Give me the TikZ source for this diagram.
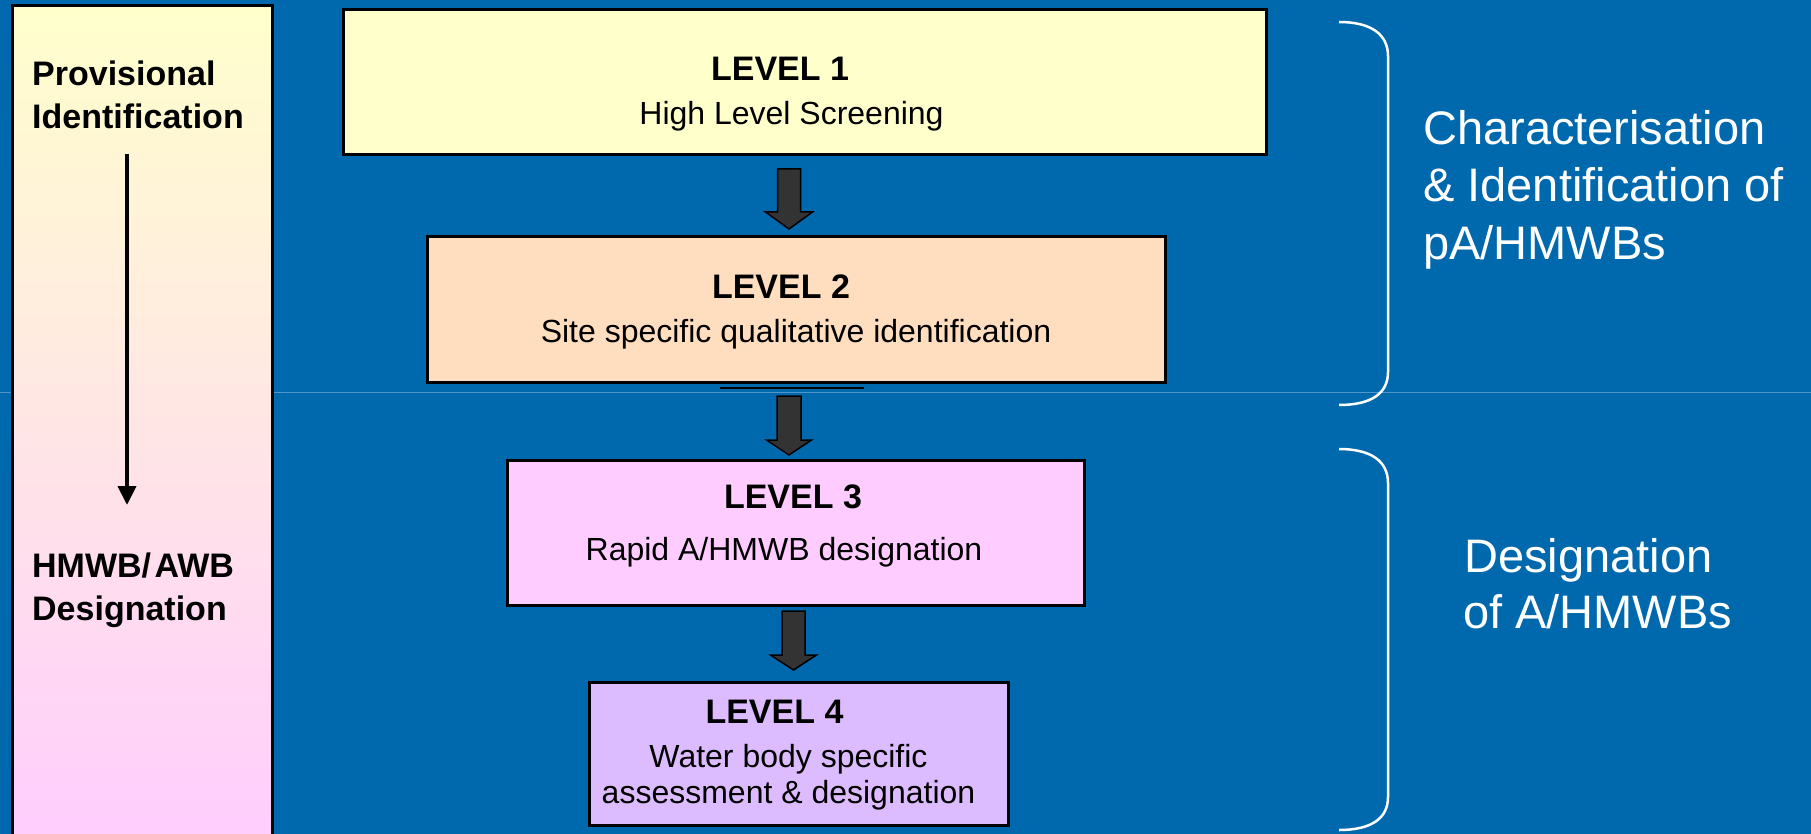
\documentclass[tikz,border=0pt]{standalone}
\usepackage{fontspec}
\setmainfont{Liberation Sans}
\usetikzlibrary{arrows.meta}
\definecolor{bgblue}{RGB}{0,105,173}
\definecolor{lineblue}{RGB}{80,150,200}
\definecolor{lvone}{RGB}{255,255,204}
\definecolor{lvtwo}{RGB}{255,222,192}
\definecolor{lvthree}{RGB}{255,204,255}
\definecolor{lvfour}{RGB}{221,187,255}
\definecolor{arrowgrey}{RGB}{51,51,51}
\tikzset{
  lvbox/.style={draw=black, line width=3pt, inner sep=0pt},
  lvtitle/.style={anchor=base, inner sep=0pt, font=\fontsize{34}{40}\selectfont\bfseries},
  lvtext/.style={anchor=base, inner sep=0pt, font=\fontsize{32}{38}\selectfont},
  sidetext/.style={anchor=base west, inner sep=0pt, font=\fontsize{34}{40}\selectfont\bfseries},
  righttext/.style={anchor=base west, inner sep=0pt, text=white, font=\fontsize{47}{56}\selectfont},
  blockarrow/.style={draw=black, line width=1.5pt, fill=arrowgrey, line join=miter},
  bracestyle/.style={draw=white, line width=2.5pt}
}
\newcommand{\myblockarrow}[6]{% x, top, headstart, tip, shaft half, head half
  \draw[blockarrow] (#1-#5,#2) -- (#1+#5,#2) -- (#1+#5,#3) -- (#1+#6,#3) -- (#1,#4) -- (#1-#6,#3) -- (#1-#5,#3) -- cycle;}
\begin{document}
\begin{tikzpicture}[x=1pt,y=-1pt]
\useasboundingbox (0,0) rectangle (1811,834);
\clip (0,0) rectangle (1811,834);
\fill[bgblue] (0,0) rectangle (1811,834);
\draw[lineblue, line width=1pt] (0,392) -- (1811,392);

% left panel
\shade[top color=lvone, bottom color=lvthree] (12,6) rectangle (272,860);
\draw[black, line width=3pt] (12,6) rectangle (272,860);
\node[sidetext] (p1) at (32,86) {Provisional};
\node[sidetext] (p2) at (32,129) {Identification};
\node[sidetext] (d1) at (32,577) {HMWB/\hspace{3.5pt}AWB};
\node[sidetext] (d2) at (32,620) {Designation};
\coordinate (la) at (127,154);
\coordinate (lb) at (127,505);
\draw[black, line width=4pt, -{Triangle[width=18pt,length=19pt]}] (la) -- (lb);

% level boxes
\node[lvbox, fill=lvone, minimum width=923pt, minimum height=145pt] (b1) at (804.5,82.5) {};
\node[lvbox, fill=lvtwo, minimum width=738pt, minimum height=145pt] (b2) at (796,309.5) {};
\node[lvbox, fill=lvthree, minimum width=577pt, minimum height=145pt] (b3) at (795.5,532.5) {};
\node[lvbox, fill=lvfour, minimum width=419pt, minimum height=143pt] (b4) at (798.5,753.5) {};

\node[lvtitle] (t1) at (780,81) {LEVEL 1};
\node[lvtext] (s1) at (791.5,125) {High Level Screening};
\node[lvtitle] (t2) at (781,298) {LEVEL 2};
\node[lvtext] (s2) at (796,342) {Site specific qualitative identification};
\node[lvtitle] (t3) at (793,508) {LEVEL 3};
\node[lvtext] (s3) at (784,560) {Rapid A/HMWB designation};
\node[lvtitle] (t4) at (774.5,723) {LEVEL 4};
\node[lvtext] (s4a) at (788.5,767) {Water body specific};
\node[lvtext] (s4b) at (788.5,803) {assessment \& designation};

% short line under level 2
\draw[black, line width=2pt] (720,388) -- (864,388);

% block arrows
\myblockarrow{789}{169}{212}{229}{11.5}{23.5}
\myblockarrow{789}{396}{440}{455}{12}{22.5}
\myblockarrow{793.5}{611}{655}{670}{11.5}{23}

% braces
\draw[bracestyle] (1339,22) .. controls (1372,22) and (1388,35) .. (1388,56) -- (1388,372) .. controls (1388,393) and (1372,405) .. (1339,405);
\draw[bracestyle] (1339,449) .. controls (1372,449) and (1388,462) .. (1388,483) -- (1388,797) .. controls (1388,818) and (1372,830) .. (1339,830);

% right texts
\node[righttext] (c1) at (1423,145) {Characterisation};
\node[righttext] (c2) at (1423,202) {\& Identification of};
\node[righttext] (c3) at (1423,259) {pA/HMWBs};
\node[righttext] (g1) at (1464,572) {Designation};
\node[righttext] (g2) at (1463,628) {of A/HMWBs};
\end{tikzpicture}
\end{document}
